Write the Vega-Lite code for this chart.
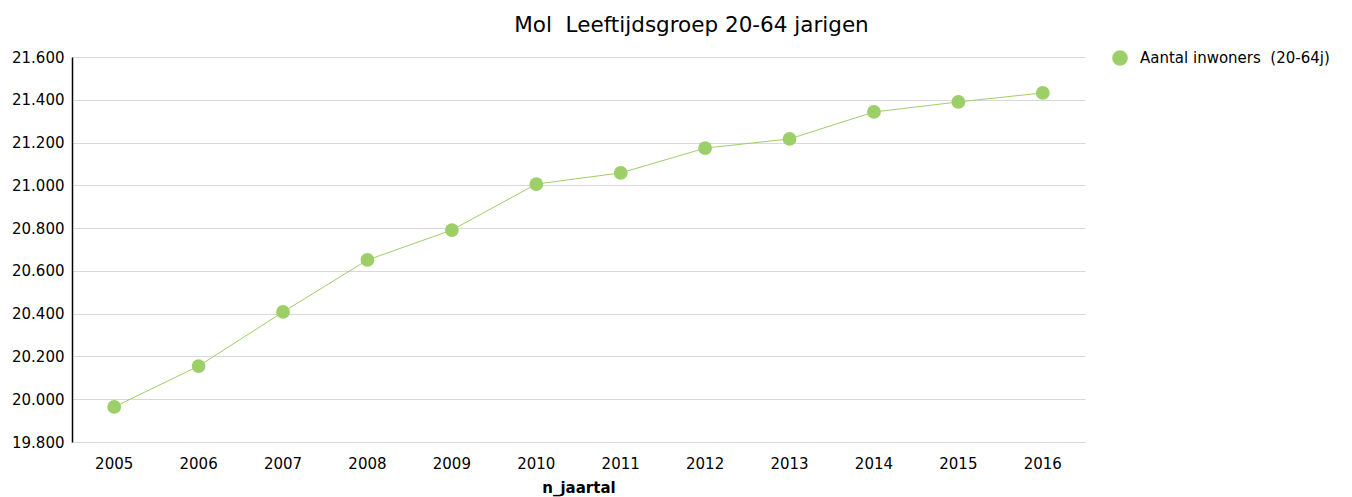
{
  "$schema": "https://vega.github.io/schema/vega-lite/v6.json",
  "width": 1013,
  "height": 385,
  "autosize": {"type": "none"},
  "padding": {"left": 72, "top": 57, "right": 267, "bottom": 55},
  "background": "white",
  "config": {
    "font": "DejaVu Sans",
    "view": {"stroke": null}
  },
  "title": {
    "text": "Mol\u00a0 Leeftijdsgroep 20-64 jarigen",
    "fontSize": 21.5,
    "fontWeight": "normal",
    "font": "DejaVu Sans",
    "color": "#000000",
    "anchor": "middle",
    "dx": 113,
    "offset": 14
  },
  "data": {
    "values": [
      {"jaar": "2005", "waarde": 19964, "reeks": "Aantal inwoners\u00a0 (20-64j)"},
      {"jaar": "2006", "waarde": 20155, "reeks": "Aantal inwoners\u00a0 (20-64j)"},
      {"jaar": "2007", "waarde": 20408, "reeks": "Aantal inwoners\u00a0 (20-64j)"},
      {"jaar": "2008", "waarde": 20651, "reeks": "Aantal inwoners\u00a0 (20-64j)"},
      {"jaar": "2009", "waarde": 20791, "reeks": "Aantal inwoners\u00a0 (20-64j)"},
      {"jaar": "2010", "waarde": 21006, "reeks": "Aantal inwoners\u00a0 (20-64j)"},
      {"jaar": "2011", "waarde": 21058, "reeks": "Aantal inwoners\u00a0 (20-64j)"},
      {"jaar": "2012", "waarde": 21174, "reeks": "Aantal inwoners\u00a0 (20-64j)"},
      {"jaar": "2013", "waarde": 21217, "reeks": "Aantal inwoners\u00a0 (20-64j)"},
      {"jaar": "2014", "waarde": 21343, "reeks": "Aantal inwoners\u00a0 (20-64j)"},
      {"jaar": "2015", "waarde": 21390, "reeks": "Aantal inwoners\u00a0 (20-64j)"},
      {"jaar": "2016", "waarde": 21432, "reeks": "Aantal inwoners\u00a0 (20-64j)"}
    ]
  },
  "encoding": {
    "x": {
      "field": "jaar",
      "type": "ordinal",
      "scale": {"type": "band", "paddingInner": 0, "paddingOuter": 0},
      "axis": {
        "title": "n_jaartal",
        "titleFontSize": 15,
        "titleFontWeight": "bold",
        "titleColor": "#000000",
        "titlePadding": 9,
        "labelAngle": 0,
        "labelFontSize": 15,
        "labelColor": "#000000",
        "labelPadding": 14,
        "ticks": false,
        "domain": false,
        "grid": false
      }
    },
    "y": {
      "field": "waarde",
      "type": "quantitative",
      "scale": {"domain": [19800, 21600], "nice": false, "zero": false},
      "axis": {
        "title": null,
        "values": [19800, 20000, 20200, 20400, 20600, 20800, 21000, 21200, 21400, 21600],
        "labelExpr": "replace(format(datum.value, ',d'), /,/g, '.')",
        "labelFontSize": 15,
        "labelColor": "#000000",
        "labelPadding": 8,
        "ticks": false,
        "domain": true,
        "domainColor": "#000000",
        "domainWidth": 1.5,
        "grid": true,
        "gridColor": "#d9d9d9",
        "gridWidth": 1
      }
    },
    "color": {
      "field": "reeks",
      "type": "nominal",
      "scale": {"range": ["#9ccf68"]},
      "legend": {
        "title": null,
        "orient": "none",
        "legendX": 1040,
        "legendY": -7,
        "labelFontSize": 15,
        "labelColor": "#000000",
        "labelLimit": 300,
        "symbolType": "circle",
        "symbolSize": 200,
        "labelOffset": 12
      }
    }
  },
  "layer": [
    {"mark": {"type": "line", "strokeWidth": 1}},
    {"mark": {"type": "point", "filled": true, "opacity": 1, "size": 190}}
  ]
}
